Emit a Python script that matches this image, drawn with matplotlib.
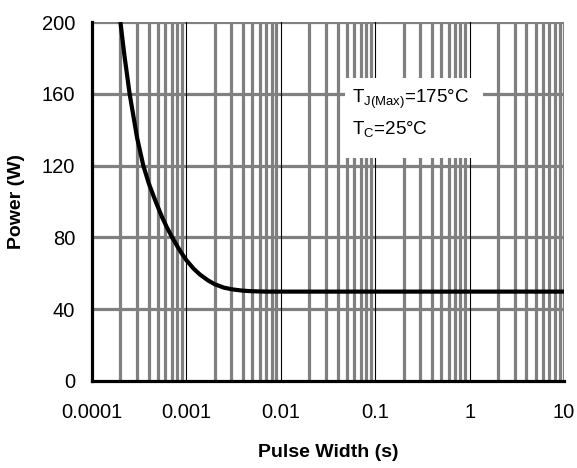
import numpy as np
import matplotlib
matplotlib.use("Agg")
import matplotlib.pyplot as plt
from matplotlib.patches import Rectangle

plt.rcParams['font.family'] = ['Liberation Sans', 'DejaVu Sans']
plt.rcParams['mathtext.fontset'] = 'custom'
plt.rcParams['mathtext.rm'] = 'Liberation Sans'

# pulse width (s) vs max power (W)
pulse_width = [0.0002, 0.00022, 0.00025, 0.0003, 0.00035, 0.0004, 0.00047, 0.00055,
               0.00062, 0.0007, 0.0008, 0.0009, 0.001, 0.0012, 0.0014, 0.0017,
               0.002, 0.0025, 0.0031, 0.004, 0.005, 0.007, 0.01, 0.1, 1, 10]
power = [200, 181.8, 160.2, 135.6, 119.9, 110, 100.3, 91.5,
         85.7, 80.4, 75.1, 70.8, 67.3, 62.4, 59.2, 56.0,
         53.9, 52.0, 51.0, 50.3, 50.0, 49.8, 49.8, 49.8, 49.8, 49.8]

xticks = [0.0001, 0.001, 0.01, 0.1, 1, 10]
xtick_labels = ['0.0001', '0.001', '0.01', '0.1', '1', '10']
yticks = [0, 40, 80, 120, 160, 200]

fig = plt.figure(figsize=(5.77, 4.68), dpi=100)
ax = fig.add_axes([92/577, (468-381)/468, 472/577, 359/468])

ax.set_xscale('log')
ax.set_xlim(0.0001, 10)
ax.set_ylim(0, 200)

grey = '#808080'
# minor vertical grid lines (2..9 of each decade)
for d in [0.0001, 0.001, 0.01, 0.1, 1]:
    for m in range(2, 10):
        ax.axvline(d*m, color=grey, lw=2.3, zorder=1)
# horizontal grid
for y in yticks[1:]:
    ax.axhline(y, color=grey, lw=2.3, zorder=1)
ax.axvline(10, color=grey, lw=2.3, zorder=1)
# decade lines thin black
for d in [0.001, 0.01, 0.1, 1]:
    ax.axvline(d, color='black', lw=0.8, zorder=1.5)

# white box for annotation
ax.add_patch(Rectangle((0.536, 0.621), 0.292, 0.223, transform=ax.transAxes,
                       facecolor='white', edgecolor='none', zorder=2))
ax.text((352-92)/472, (381-103)/359, r'T$_{\mathregular{J(Max)}}$=175°C',
        transform=ax.transAxes, fontsize=13.5, zorder=3, va='baseline')
ax.text((352-92)/472, (381-135)/359, r'T$_{\mathregular{C}}$=25°C',
        transform=ax.transAxes, fontsize=13.5, zorder=3, va='baseline')

ax.plot(pulse_width, power, color='black', lw=3, zorder=4, solid_capstyle='butt')

ax.set_xticks(xticks)
ax.set_xticklabels(xtick_labels)
ax.xaxis.set_minor_locator(matplotlib.ticker.NullLocator())
ax.set_yticks(yticks)
ax.tick_params(length=0, labelsize=14.5)
ax.tick_params(axis='y', pad=12)
ax.tick_params(axis='x', pad=16)

for s in ['top', 'right']:
    ax.spines[s].set_visible(False)
for s in ['left', 'bottom']:
    ax.spines[s].set_linewidth(2.3)
    ax.spines[s].set_zorder(5)

ax.set_xlabel('Pulse Width (s)', fontsize=14, fontweight='bold', labelpad=16)
ax.set_ylabel('Power (W)', fontsize=14, fontweight='bold', labelpad=12)

fig.savefig('out.png', dpi=100)
